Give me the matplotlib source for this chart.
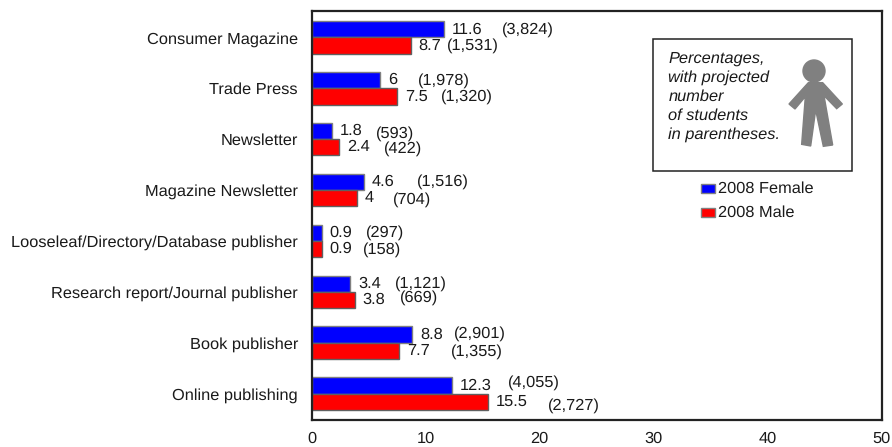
import matplotlib
matplotlib.use('Agg')
import numpy as np
import matplotlib.pyplot as plt
from matplotlib.patches import Circle, Polygon, Rectangle

W, H = 892, 447

categories = ['Consumer Magazine', 'Trade Press', 'Newsletter', 'Magazine Newsletter',
              'Looseleaf/Directory/Database publisher', 'Research report/Journal publisher',
              'Book publisher', 'Online publishing']
female = [11.6, 6, 1.8, 4.6, 0.9, 3.4, 8.8, 12.3]
male = [8.7, 7.5, 2.4, 4, 0.9, 3.8, 7.7, 15.5]
female_n = ['(3,824)', '(1,978)', '(593)', '(1,516)', '(297)', '(1,121)', '(2,901)', '(4,055)']
male_n = ['(1,531)', '(1,320)', '(422)', '(704)', '(158)', '(669)', '(1,355)', '(2,727)']
x_ticks = [0, 10, 20, 30, 40, 50]

# px between bar end and the number in parentheses, the labels are hand placed in the original
female_gap = [58, 38, 44, 53, 44, 45, 42, 56]
male_gap = [36, 44, 45, 36, 41, 45, 52, 60]
# px the number in parentheses sits above (+) or below (-) the bar centre
female_dy = [0, 0, -2, 0, 0, 0, 1, 3]
male_dy = [0, 0, -1, -1, 0, 2, -1, -4]

plt.rcParams['font.family'] = ['Liberation Sans', 'DejaVu Sans']
plt.rcParams['font.size'] = 11.8
plt.rcParams['text.hinting'] = 'no_hinting'
TEXT = '#1a1a1a'

fig = plt.figure(figsize=(W / 100, H / 100), dpi=100)
ax = fig.add_axes([311.5 / W, 1 - 420 / H, (881.5 - 311.5) / W, (420 - 11) / H])

y = np.arange(len(categories))
bar_h = 0.32
ax.barh(y - bar_h / 2, female, bar_h, color='#0000ff', edgecolor='#808080', linewidth=1)
ax.barh(y + bar_h / 2, male, bar_h, color='#ff0000', edgecolor='#606060', linewidth=1)

for i in range(len(categories)):
    yf = y[i] - bar_h / 2
    ym = y[i] + bar_h / 2
    ax.annotate(str(female[i]), (female[i], yf), xytext=(8, 0), textcoords='offset pixels',
                va='center', ha='left', color=TEXT)
    ax.annotate(female_n[i], (female[i], yf), xytext=(female_gap[i], female_dy[i]), textcoords='offset pixels',
                va='center', ha='left', color=TEXT)
    ax.annotate(str(male[i]), (male[i], ym), xytext=(8, 0), textcoords='offset pixels',
                va='center', ha='left', color=TEXT)
    ax.annotate(male_n[i], (male[i], ym), xytext=(male_gap[i], male_dy[i]), textcoords='offset pixels',
                va='center', ha='left', color=TEXT)

ax.set_xlim(0, 50)
ax.set_ylim(len(categories) - 0.5 + 0.02, -0.5 - 0.02)
ax.set_xticks(x_ticks)
ax.set_yticks(y)
ax.set_yticklabels(categories)
ax.tick_params(length=0, labelcolor=TEXT)
ax.tick_params(axis='y', pad=9.7)
ax.tick_params(axis='x', pad=8)
for s in ax.spines.values():
    s.set_linewidth(1.6)
    s.set_color('#222222')

# overlay in pixel coordinates for the note box and legend
ov = fig.add_axes([0, 0, 1, 1])
ov.set_xlim(0, W)
ov.set_ylim(H, 0)
ov.axis('off')
ov.patch.set_alpha(0)

ov.add_patch(Rectangle((653, 39), 199, 132, facecolor='white', edgecolor='#222222', linewidth=1.1))
for i, line in enumerate(['Percentages,', 'with projected', 'number', 'of students', 'in parentheses.']):
    ov.text(668.5, 59 + i * 19, line, style='italic', va='center', ha='left', color=TEXT)

ov.add_patch(Circle((814, 71), 11, color='#808080'))
body = [(535, 158), (578, 158), (637, 222), (620, 236), (582, 197), (608, 345), (580, 349),
        (557, 240), (542, 348), (515, 343), (526, 200), (495, 237), (477, 222)]
ov.add_patch(Polygon([(630 + a / 3, 30 + b / 3) for a, b in body], color='#808080'))

ov.add_patch(Rectangle((701, 184), 14, 9, facecolor='#0000ff', edgecolor='#808080', linewidth=1))
ov.add_patch(Rectangle((701, 208), 14, 9, facecolor='#ff0000', edgecolor='#808080', linewidth=1))
ov.text(718, 189, '2008 Female', va='center', ha='left', color=TEXT)
ov.text(718, 212.5, '2008 Male', va='center', ha='left', color=TEXT)

fig.savefig('out.png', dpi=100)
